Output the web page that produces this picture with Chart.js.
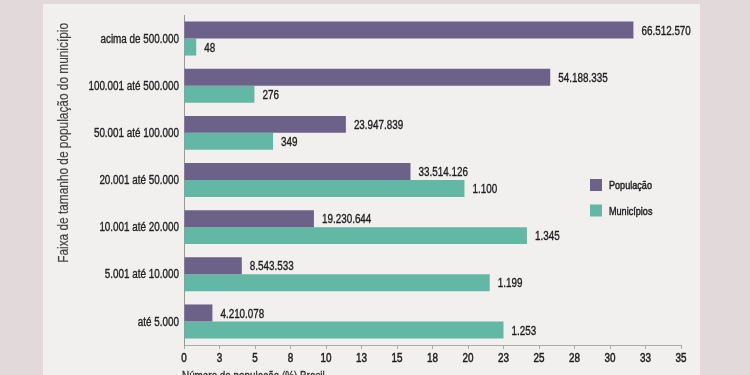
<!DOCTYPE html>
<html>
<head>
<meta charset="utf-8">
<script src="https://cdn.jsdelivr.net/npm/chart.js@4"></script>
<style>
  html, body { margin: 0; padding: 0; overflow: hidden; background: #e2dada; }
  #panel { position: absolute; left: 43px; top: 4px; width: 657px; height: 400px; background: #f2efef; }
  #grafico { position: absolute; left: 0; top: 0; }
</style>
</head>
<body>
<div id="panel"></div>
<canvas id="grafico" width="750" height="400"></canvas>
<script>
// faixas de tamanho (de cima para baixo)
const faixas = [
  "acima de 500.000",
  "100.001 até 500.000",
  "50.001 até 100.000",
  "20.001 até 50.000",
  "10.001 até 20.000",
  "5.001 até 10.000",
  "até 5.000",
];

// % do total do Brasil
const populacaoPct = [31.65, 25.79, 11.4, 15.95, 9.15, 4.07, 2.0];
const municipiosPct = [0.86, 4.96, 6.27, 19.75, 24.15, 21.53, 22.5];

// rótulos escritos na ponta das barras
const populacaoTxt = ["66.512.570", "54.188.335", "23.947.839", "33.514.126", "19.230.644", "8.543.533", "4.210.078"];
const municipiosTxt = ["48", "276", "349", "1.100", "1.345", "1.199", "1.253"];

const xTicks = ["0", "3", "5", "8", "10", "13", "15", "18", "20", "23", "25", "28", "30", "33", "35"];

const tituloX = "Número de população (%) Brasil";
const tituloY = "Faixa de tamanho de população do município";

const fonte = "'Liberation Sans', Arial, sans-serif";
const ESTREITO = 0.79; // simula a fonte condensada

// texto comprimido na horizontal
function escreve(ctx, txt, x, y, size, align, cor, rot, peso) {
  ctx.save();
  ctx.translate(x, y);
  if (rot) ctx.rotate(rot);
  ctx.scale(ESTREITO, 1);
  ctx.font = size + "px " + fonte;
  ctx.fillStyle = cor || "#222";
  ctx.strokeStyle = cor || "#222";
  ctx.lineWidth = peso === undefined ? 0.35 : peso;
  ctx.textAlign = align;
  ctx.textBaseline = "alphabetic";
  ctx.fillText(txt, 0, 0);
  if (ctx.lineWidth > 0) ctx.strokeText(txt, 0, 0);
  ctx.restore();
}

const textos = {
  id: "textos",
  afterDraw(chart) {
    const ctx = chart.ctx;
    const x = chart.scales.x;
    const y = chart.scales.y;

    // números na ponta das barras
    chart.data.datasets.forEach((ds, i) => {
      chart.getDatasetMeta(i).data.forEach((bar, j) => {
        escreve(ctx, ds.rotulos[j], bar.x + 8, bar.y + 4.6, 12.5, "left", "#1e1e1e");
      });
    });

    // faixas no eixo y
    faixas.forEach((f, i) => {
      escreve(ctx, f, x.left - 5, y.getPixelForValue(i) + 4.2, 12.5, "right", "#222");
    });

    // marcas do eixo x
    xTicks.forEach((t, i) => {
      escreve(ctx, t, x.getPixelForValue(i * 2.5), y.bottom + 16.8, 12.5, "center", "#1e1e1e", 0, 0.5);
    });

    escreve(ctx, tituloX, x.left - 2, y.bottom + 35, 12.5, "left", "#333");
    escreve(ctx, tituloY, 68, y.top + 8, 15, "right", "#444", -Math.PI / 2, 0.2);

    // legenda
    chart.data.datasets.forEach((ds, i) => {
      const ly = 179 + i * 25.5;
      ctx.fillStyle = ds.backgroundColor;
      ctx.fillRect(590, ly, 12, 12);
      escreve(ctx, ds.label, 609, ly + 10.2, 11.5, "left", "#1e1e1e", 0, 0.45);
    });
  },
};

const ctx = document.getElementById("grafico").getContext("2d");
new Chart(ctx, {
  type: "bar",
  data: {
    labels: faixas,
    datasets: [
      {
        label: "População",
        data: populacaoPct,
        rotulos: populacaoTxt,
        backgroundColor: "#6b6189",
      },
      {
        label: "Municípios",
        data: municipiosPct,
        rotulos: municipiosTxt,
        backgroundColor: "#62b8a4",
      },
    ],
  },
  options: {
    indexAxis: "y",
    responsive: false,
    animation: false,
    categoryPercentage: 0.72,
    barPercentage: 1,
    layout: { padding: { top: 15, right: 69, bottom: 13, left: 0 } },
    plugins: { legend: { display: false }, tooltip: { enabled: false } },
    scales: {
      x: {
        min: 0,
        max: 35,
        ticks: { stepSize: 2.5, display: false },
        grid: { drawOnChartArea: false, tickLength: 4, color: "#aaa" },
        border: { color: "#aaa" },
        afterFit: (s) => { s.height = 42; },
      },
      y: {
        ticks: { display: false },
        grid: { display: false },
        border: { color: "#999" },
        afterFit: (s) => { s.width = 184; },
      },
    },
  },
  plugins: [textos],
});
</script>
</body>
</html>
